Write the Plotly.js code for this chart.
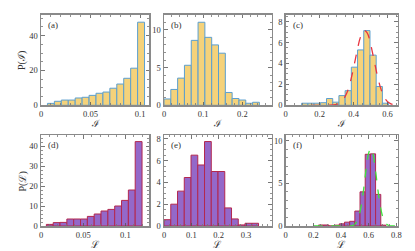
<!DOCTYPE html>
<html><head><meta charset="utf-8">
<script src="https://cdn.plot.ly/plotly-3.0.1.min.js"></script>
<style>html,body{margin:0;padding:0;background:#fff}#chart{width:415px;height:251px}</style>
</head><body><div id="chart"></div>
<script>
// (a) I distribution
const aCenters = [0.0100,0.0170,0.0240,0.0310,0.0380,0.0450,0.0520,0.0590,0.0660,0.0730,0.0800,0.0870,0.0940,0.1010];
const aValues  = [1.1,2.3,3.0,3.0,4.2,4.6,5.7,6.9,7.6,9.8,12.2,15.5,21.3,47.7];
const aWidth = 0.007;
// (b)
const bCenters = [0.0087,0.0261,0.0435,0.0609,0.0783,0.0957,0.1131,0.1305,0.1479,0.1653,0.1827,0.2001,0.2175,0.2349];
const bValues  = [0.84,2.1,3.6,5.3,8.6,11.0,9.0,8.0,6.9,1.7,0.9,0.7,0.27,0.4];
const bWidth = 0.0174;
// (c)
const cCenters = [0.1123,0.1489,0.1855,0.2221,0.2587,0.2953,0.3319,0.3685,0.4051,0.4417,0.4783,0.5149,0.5515,0.5881];
const cValues  = [0.2,0.2,0.2,0.25,0.65,0.3,0.93,1.4,3.65,5.3,7.15,4.8,1.8,0.2];
const cWidth = 0.0366;
const cFitX = [0.15,0.2,0.25,0.3,0.33,0.36,0.38,0.40,0.42,0.44,0.46,0.48,0.50,0.52,0.54,0.56,0.58,0.60,0.62,0.64,0.66];
const cFitY = [0,0,0.01,0.08,0.35,1.17,2.18,3.58,5.15,6.5,7.17,6.94,5.88,4.37,2.84,1.62,0.81,0.35,0.14,0.05,0.02];
// (d) L distribution
const dCenters = [0.0104,0.0185,0.0266,0.0347,0.0428,0.0509,0.0590,0.0671,0.0752,0.0833,0.0914,0.0995,0.1076,0.1157];
const dValues  = [0.8,1.7,1.8,3.5,3.5,3.5,4.8,6.0,7.5,8.3,10.0,12.8,18.0,42.2];
const dWidth = 0.0081;
// (e)
const eCenters = [0.0124,0.0371,0.0618,0.0865,0.1112,0.1359,0.1606,0.1853,0.2100,0.2347,0.2594,0.2841,0.3088,0.3335];
const eValues  = [0.58,2.0,3.2,4.45,6.5,5.6,7.75,5.0,5.0,1.66,0.65,0.1,0.25,0.25];
const eWidth = 0.0247;
// (f)
const fCenters = [0.2563,0.2938,0.3313,0.3688,0.4063,0.4438,0.4813,0.5188,0.5563,0.5938,0.6313,0.6688,0.7063];
const fValues  = [0.12,0.12,0,0.1,0.25,0.45,0.55,1.75,4.0,8.4,8.45,3.7,0.1];
const fWidth = 0.0375;
const fFitX = [0.2,0.3,0.4,0.46,0.48,0.5,0.52,0.54,0.56,0.58,0.60,0.615,0.63,0.65,0.67,0.69,0.71,0.73,0.75,0.77,0.81];
const fFitY = [0,0,0,0.01,0.05,0.21,0.70,1.85,3.86,6.43,8.54,9.1,8.54,6.43,3.86,1.85,0.70,0.21,0.05,0.01,0];

const panelLabels = ['(a)','(b)','(c)','(d)','(e)','(f)'];
const xTitles = ['ℐ','ℐ','ℐ','ℒ','ℒ','ℒ'];
const yTitles = ['P(ℐ)','P(ℒ)'];

const yellow = '#f5d27a', blueEdge = '#5c9fcf';
const purple = '#9468c9', redEdge = '#b3284f';
const FONT = 'Liberation Serif, DejaVu Serif, serif';

function bars(x, y, w, fill, edge, ax) {
  return {type:'bar', x:x, y:y, width:w, xaxis:'x'+ax, yaxis:'y'+ax,
    marker:{color:fill, line:{color:edge, width:1}}, hoverinfo:'skip', showlegend:false};
}
const data = [
  bars(aCenters,aValues,aWidth,yellow,blueEdge,''),
  bars(bCenters,bValues,bWidth,yellow,blueEdge,'2'),
  bars(cCenters,cValues,cWidth,yellow,blueEdge,'3'),
  {type:'scatter',mode:'lines',x:cFitX,y:cFitY,xaxis:'x3',yaxis:'y3',line:{color:'#e8343f',width:1.3,dash:'dash',shape:'spline'},showlegend:false},
  bars(dCenters,dValues,dWidth,purple,redEdge,'4'),
  bars(eCenters,eValues,eWidth,purple,redEdge,'5'),
  bars(fCenters,fValues,fWidth,purple,redEdge,'6'),
  {type:'scatter',mode:'lines',x:fFitX,y:fFitY,xaxis:'x6',yaxis:'y6',line:{color:'#3ee23e',width:1.3,dash:'dash',shape:'spline'},showlegend:false}
];

const W = 415, H = 251;
const xDom = [[41,149],[164,271.7],[285.7,397.7]];
const yDom = [[14.7,105.3],[135,226]];
const xRanges = [[0,0.109],[0,0.275],[0,0.66],[0,0.128],[0,0.394],[0,0.81]];
const yRanges = [[0,52],[0,12],[0,8.67],[0,45.5],[0,8.35],[0,10.66]];
const xDt = [[0.05,0.01],[0.1,0.02],[0.2,0.05],[0.05,0.01],[0.1,0.02],[0.2,0.05]];
const yDt = [[20,5],[5,1],[2,0.5],[10,2],[2,0.5],[5,1]];

const layout = {width:W, height:H, margin:{l:0,r:0,t:0,b:0}, paper_bgcolor:'#fff', plot_bgcolor:'#fff',
  bargap:0, barmode:'overlay', font:{family:FONT, size:8, color:'#333'}, annotations:[]};

for (let i=0;i<6;i++){
  const col=i%3, row=Math.floor(i/3);
  const sfx = i===0?'':String(i+1);
  const xd=[xDom[col][0]/W, xDom[col][1]/W];
  const yd=[1-yDom[row][1]/H, 1-yDom[row][0]/H];
  const common = {showgrid:false, zeroline:false, showline:true, mirror:'allticks', linecolor:'#8a8a8a', linewidth:1.5,
    ticks:'inside', ticklen:3.5, tickwidth:0.8, tickcolor:'#555', tickfont:{family:FONT,size:8.5,color:'#333'}, fixedrange:true};
  layout['xaxis'+sfx] = Object.assign({}, common, {domain:xd, range:xRanges[i], anchor:'y'+sfx, tick0:0, dtick:xDt[i][0],
    minor:{dtick:xDt[i][1], ticks:'inside', ticklen:2, tickcolor:'#777'}});
  layout['yaxis'+sfx] = Object.assign({}, common, {domain:yd, range:yRanges[i], anchor:'x'+sfx, tick0:0, dtick:yDt[i][0],
    minor:{dtick:yDt[i][1], ticks:'inside', ticklen:2, tickcolor:'#777'}});
  layout.annotations.push({text:panelLabels[i], xref:'paper', yref:'paper', x:(xDom[col][0]+5)/W, y:1-(yDom[row][0]+3)/H,
    xanchor:'left', yanchor:'top', showarrow:false, font:{family:FONT,size:9,color:'#333'}});
  layout.annotations.push({text:xTitles[i], xref:'paper', yref:'paper', x:(xDom[col][0]+xDom[col][1])/2/W,
    y:1-(yDom[row][1]+18.5)/H, xanchor:'center', yanchor:'middle', showarrow:false, font:{family:FONT,size:10,color:'#333'}});
}
for (let r=0;r<2;r++){
  layout.annotations.push({text:yTitles[r], xref:'paper', yref:'paper', x:22/W, y:1-((yDom[r][0]+yDom[r][1])/2+1)/H,
    xanchor:'center', yanchor:'middle', textangle:-90, showarrow:false, font:{family:FONT,size:10,color:'#333'}});
}
Plotly.newPlot('chart', data, layout, {staticPlot:true});
</script></body></html>
